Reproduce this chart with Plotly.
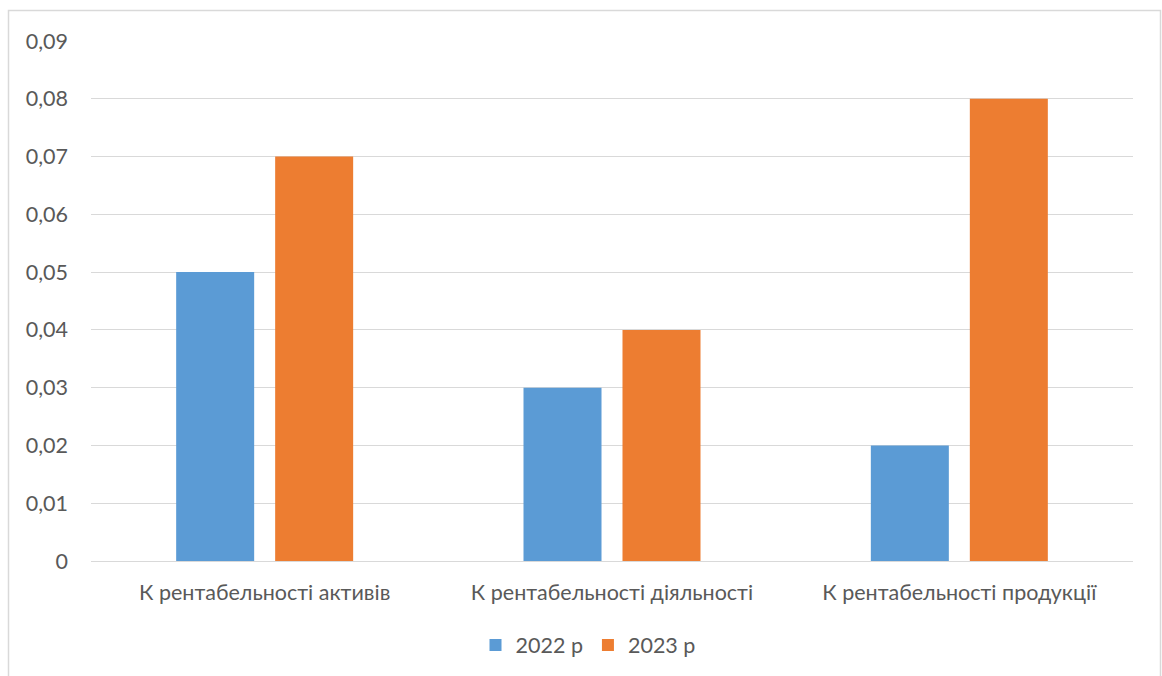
import plotly.graph_objects as go

categories = ["К рентабельності активів", "К рентабельності діяльності", "К рентабельності продукції"]
values_2022 = [0.05, 0.03, 0.02]
values_2023 = [0.07, 0.04, 0.08]
series_names = ["2022 р", "2023 р"]
tick_values = [0, 0.01, 0.02, 0.03, 0.04, 0.05, 0.06, 0.07, 0.08, 0.09]
tick_labels = ["0", "0,01", "0,02", "0,03", "0,04", "0,05", "0,06", "0,07", "0,08", "0,09"]

W, H = 1162, 676
L, R, T, B = 91, 1133, 41, 561

fig = go.Figure()
fig.add_trace(go.Bar(x=categories, y=values_2022, name=series_names[0],
                     marker=dict(color="#5B9BD5", line=dict(width=0))))
fig.add_trace(go.Bar(x=categories, y=values_2023, name=series_names[1],
                     marker=dict(color="#ED7D31", line=dict(width=0))))

pw, ph = R - L, B - T
def px(x):
    return (x - L) / pw
def py(y):
    return (B - y) / ph

# light frame around the whole chart area
fig.add_shape(type="rect", xref="paper", yref="paper",
              x0=px(8.5), x1=px(1160.5), y0=py(690), y1=py(10.5),
              line=dict(color="#D9D9D9", width=1.5), fillcolor="rgba(0,0,0,0)", layer="below")

font = dict(family="Lato, Open Sans, sans-serif", size=21.5, color="#595959")
fig.update_layout(
    width=W, height=H,
    margin=dict(l=L, r=W - R, t=T, b=H - B, autoexpand=False),
    paper_bgcolor="white", plot_bgcolor="white",
    barmode="group", bargap=0.43, bargroupgap=0.212,
    font=font,
    showlegend=True,
    legend=dict(orientation="h", x=px(588), xanchor="center", y=py(645), yanchor="middle",
                font=font, itemwidth=30, traceorder="normal"),
    xaxis=dict(showgrid=False, showline=False, ticks="", tickfont=font, ticklabelstandoff=16),
    yaxis=dict(range=[0, 0.09], tickvals=tick_values, ticktext=tick_labels,
               showgrid=True, gridcolor="#D9D9D9", gridwidth=1.3,
               zeroline=True, zerolinecolor="#D9D9D9", zerolinewidth=1.3,
               showline=False, ticks="", tickfont=font, ticklabelstandoff=22),
)
fig.write_html("out.html")
